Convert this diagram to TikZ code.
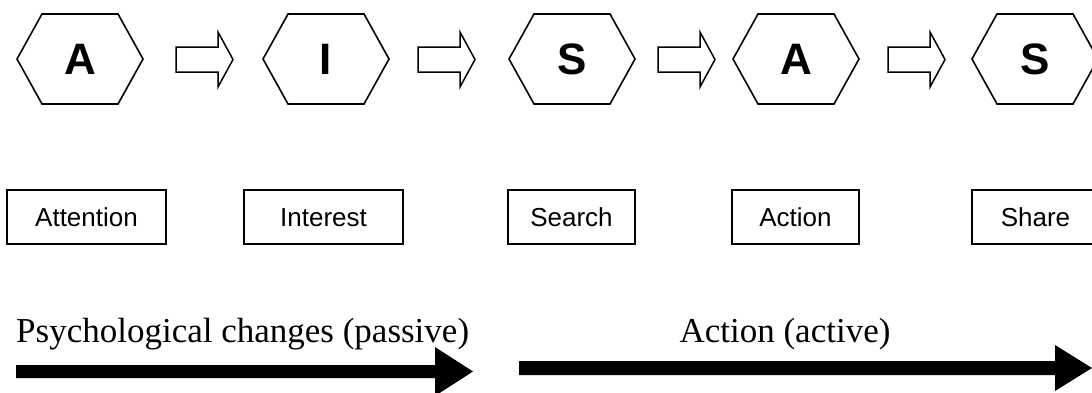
\documentclass[tikz,border=0pt]{standalone}
\usepackage{fontspec}
\setmainfont{Liberation Serif}
\setsansfont{Liberation Sans}
\usetikzlibrary{calc}
\begin{document}
\begin{tikzpicture}[x=1pt,y=1pt,
  hexletter/.style={font=\sffamily\bfseries\fontsize{44}{44}\selectfont, inner sep=0pt},
  hexline/.style={draw=black, line width=1.6pt, line join=miter},
  stagebox/.style={draw=black, line width=1.3pt, font=\sffamily\fontsize{26}{26}\selectfont, minimum height=54pt, inner sep=0pt, text height=19pt, text depth=0pt},
  blockarrow/.style={draw=black, fill=white, line width=1.5pt, line join=miter},
  bigarrow/.style={fill=black, draw=none},
  phase/.style={font=\rmfamily\fontsize{35}{36}\selectfont, inner sep=0pt}
]
\useasboundingbox (0,0) rectangle (1092,392);

% hexagons
\foreach \n/\x/\t in {h1/80/A, h2/326/I, h3/572/S, h4/796/A, h5/1035/S}{
  \node[hexletter] (\n) at (\x,333) {\t};
  \draw[hexline] ($(\n.center)+(-63,0)$) -- ($(\n.center)+(-38,45)$) -- ($(\n.center)+(38,45)$)
    -- ($(\n.center)+(63,0)$) -- ($(\n.center)+(38,-45)$) -- ($(\n.center)+(-38,-45)$) -- cycle;
}

% block arrows between hexagons
\foreach \c/\x in {c1/176, c2/418, c3/658, c4/888}{
  \coordinate (\c) at (\x,332.5);
  \draw[blockarrow] ($(\c)+(0,12.5)$) -- ($(\c)+(42,12.5)$) -- ($(\c)+(42,27.5)$) -- ($(\c)+(57,0)$)
    -- ($(\c)+(42,-27.5)$) -- ($(\c)+(42,-12.5)$) -- ($(\c)+(0,-12.5)$) -- cycle;
}

% stage boxes
\node[stagebox, minimum width=159pt] (b1) at (86.5,175) {Attention};
\node[stagebox, minimum width=159pt] (b2) at (323.5,175) {Interest};
\node[stagebox, minimum width=127pt] (b3) at (571.5,175) {Search};
\node[stagebox, minimum width=127pt] (b4) at (795.5,175) {Action};
\node[stagebox, minimum width=127pt] (b5) at (1035.5,175) {Share};

% phase labels
\node[phase, anchor=base west] (p1) at (16,50) {Psychological changes (passive)};
\node[phase, anchor=base] (p2) at (785,50) {Action (active)};

% phase arrows
\coordinate (l0) at (16,20.5);
\fill[bigarrow] ($(l0)+(0,6.5)$) -- ($(l0)+(419,6.5)$) -- ($(l0)+(419,24.5)$) -- ($(l0)+(457,0)$)
  -- ($(l0)+(419,-24.5)$) -- ($(l0)+(419,-6.5)$) -- ($(l0)+(0,-6.5)$) -- cycle;
\coordinate (r0) at (519,24);
\fill[bigarrow] ($(r0)+(0,7)$) -- ($(r0)+(536,7)$) -- ($(r0)+(536,23)$) -- ($(r0)+(573,0)$)
  -- ($(r0)+(536,-23)$) -- ($(r0)+(536,-7)$) -- ($(r0)+(0,-7)$) -- cycle;
\end{tikzpicture}
\end{document}
